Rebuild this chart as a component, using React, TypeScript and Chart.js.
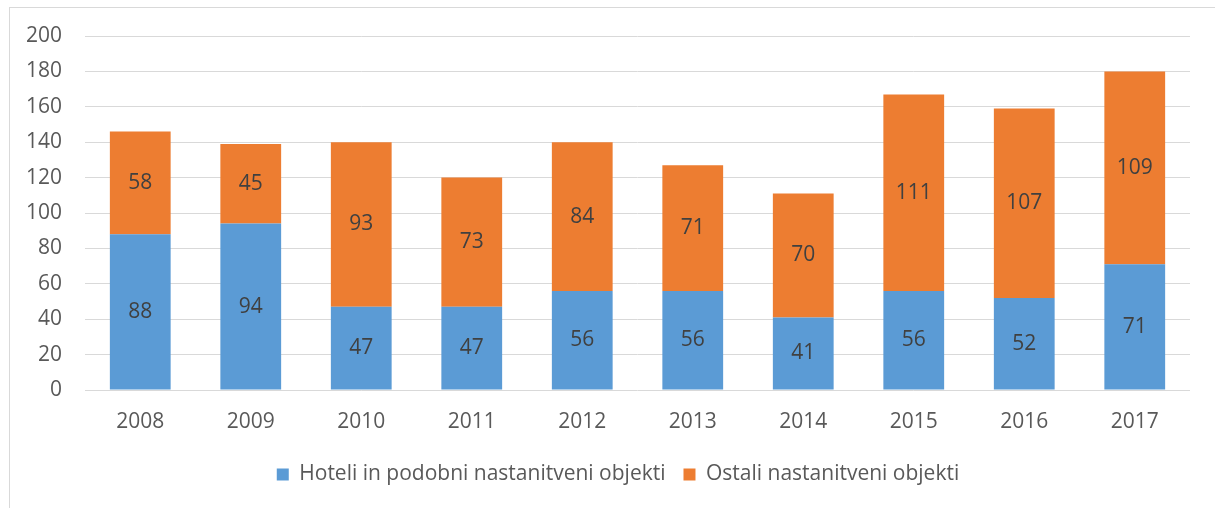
import React, { useEffect, useRef } from "react";
import { Chart, registerables } from "chart.js";

Chart.register(...registerables);

const years = ["2008", "2009", "2010", "2011", "2012", "2013", "2014", "2015", "2016", "2017"];
const hoteli = [88, 94, 47, 47, 56, 56, 41, 56, 52, 71];
const ostali = [58, 45, 93, 73, 84, 71, 70, 111, 107, 109];
const seriesNames = ["Hoteli in podobni nastanitveni objekti", "Ostali nastanitveni objekti"];
const yTicks = [0, 20, 40, 60, 80, 100, 120, 140, 160, 180, 200];

const FONT = "'Open Sans', sans-serif";
const FS = 21;

const valueLabels = {
  id: "valueLabels",
  afterDatasetsDraw(chart: any) {
    const ctx = chart.ctx;
    ctx.save();
    ctx.font = `${FS}px ${FONT}`;
    ctx.fillStyle = "#404040";
    ctx.textAlign = "center";
    ctx.textBaseline = "middle";
    chart.data.datasets.forEach((ds: any, di: number) => {
      const meta = chart.getDatasetMeta(di);
      meta.data.forEach((bar: any, i: number) => {
        const p = bar.getProps(["x", "y", "base"], true);
        ctx.fillText(String(ds.data[i]), p.x, (p.y + p.base) / 2);
      });
    });
    ctx.restore();
  },
};

const legendShift = {
  id: "legendShift",
  afterLayout(chart: any) {
    const lg = chart.legend;
    if (lg) {
      lg.left += 12;
      lg.right += 12;
    }
  },
};

export default function App() {
  const ref = useRef<HTMLCanvasElement>(null);
  useEffect(() => {
    if (!ref.current) return;
    const chart = new Chart(ref.current, {
      type: "bar",
      data: {
        labels: years,
        datasets: [
          { label: seriesNames[0], data: hoteli, backgroundColor: "#5B9BD5", categoryPercentage: 0.55, barPercentage: 1 },
          { label: seriesNames[1], data: ostali, backgroundColor: "#ED7D31", categoryPercentage: 0.55, barPercentage: 1 },
        ],
      },
      options: {
        responsive: false,
        animation: false,
        layout: { padding: { top: 36, right: 25, left: 22, bottom: 13 } },
        plugins: {
          tooltip: { enabled: false },
          legend: {
            position: "bottom",
            labels: {
              boxWidth: 12,
              boxHeight: 12,
              padding: 18,
              color: "#595959",
              font: { family: FONT, size: FS },
            },
          },
        },
        scales: {
          x: {
            stacked: true,
            grid: { display: false, drawTicks: false },
            border: { display: false },
            ticks: { color: "#595959", font: { family: FONT, size: FS }, padding: 19 },
            afterFit: (s: any) => { s.height = 56; },
          },
          y: {
            stacked: true,
            min: 0,
            max: 200,
            afterBuildTicks: (s: any) => { s.ticks = yTicks.map((v) => ({ value: v })); },
            grid: { color: "#d9d9d9", lineWidth: 1, drawTicks: false },
            border: { display: false },
            ticks: { color: "#595959", font: { family: FONT, size: FS }, padding: 23 },
            afterFit: (s: any) => { s.width = 63; },
          },
        },
      },
      plugins: [valueLabels, legendShift],
    });
    return () => chart.destroy();
  }, []);
  return (
    <div style={{ position: "fixed", left: 0, top: 0, width: 1215, height: 508, background: "#fff", overflow: "hidden" }}>
      <div style={{ position: "absolute", left: 9, top: 7, width: 1215, height: 520, border: "1px solid #d9d9d9", boxSizing: "border-box" }} />
      <canvas ref={ref} width={1215} height={508} style={{ position: "absolute", left: 0, top: 0 }} />
    </div>
  );
}
